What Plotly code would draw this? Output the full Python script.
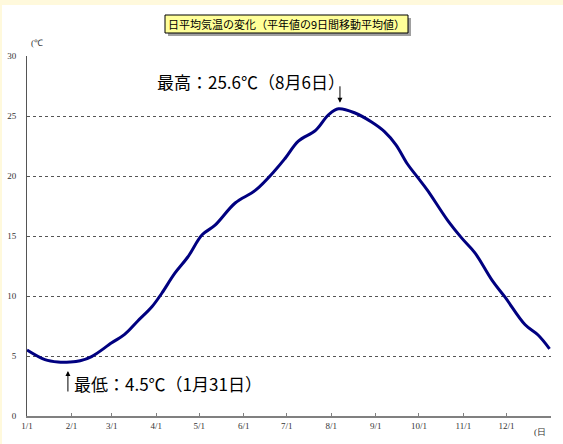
import plotly.graph_objects as go

# Day of year (1 = Jan 1) and 9-day moving-average normal temperature (deg C)
days = [1, 13.5, 22.6, 31, 38, 46, 60, 69, 78, 88, 95, 104, 113, 123, 132, 146,
        160, 174, 181, 190, 202, 211, 218, 229.5, 241, 250, 258, 266, 273, 280,
        294, 304, 313, 325, 334, 348, 357, 365]
temps = [5.5, 4.7, 4.5, 4.5, 4.6, 4.95, 6.1, 6.8, 7.9, 9.1, 10.25, 11.9, 13.25,
         15.1, 15.9, 17.75, 18.8, 20.5, 21.5, 22.9, 23.8, 25.1, 25.6, 25.25, 24.5,
         23.7, 22.6, 21.0, 19.9, 18.8, 16.3, 14.8, 13.6, 11.3, 9.9, 7.6, 6.75, 5.6]

month_days = [1, 32, 60, 91, 121, 152, 182, 213, 244, 274, 305, 335]
month_labels = ["1/1", "2/1", "3/1", "4/1", "5/1", "6/1", "7/1", "8/1", "9/1",
                "10/1", "11/1", "12/1"]
y_ticks = [0, 5, 10, 15, 20, 25, 30]

title_text = "日平均気温の変化（平年値の9日間移動平均値）"
max_text = "最高：25.6℃（8月6日）"
min_text = "最低：4.5℃（1月31日）"
max_point = (218, 25.6)
min_point = (31, 4.5)

W, H = 563, 444
L, R, T, B = 27, 12, 56, 28
pw, ph = W - L - R, H - T - B

def px(x):
    return (x - L) / pw

def py(y):
    return (H - B - y) / ph

fig = go.Figure()
fig.add_trace(go.Scatter(x=days, y=temps, mode="lines",
                         line=dict(color="#000080", width=3, shape="spline", smoothing=1.0),
                         hoverinfo="skip", showlegend=False))

serif = "Liberation Serif, serif"
cjk = "Noto Sans CJK JP, sans-serif"

fig.update_layout(
    width=W, height=H,
    margin=dict(l=L, r=R, t=T, b=B, autoexpand=False),
    paper_bgcolor="white", plot_bgcolor="white",
    xaxis=dict(range=[1, 366], tickvals=month_days, ticktext=month_labels,
               automargin=False,
               showgrid=False, zeroline=False, showline=True, linecolor="#808080",
               linewidth=2, ticks="inside", ticklen=3, tickcolor="#808080",
               tickfont=dict(family=serif, size=9, color="#333333")),
    yaxis=dict(range=[0, 30], tickvals=y_ticks, showgrid=True, gridcolor="#555555",
               automargin=False,
               griddash="dot", gridwidth=1, zeroline=False, showline=True,
               linecolor="#555555", linewidth=1, ticks="", ticklabelstandoff=8,
               tickfont=dict(family=serif, size=9, color="#333333")),
)

shapes = [
    # light cream border band
    dict(type="rect", xref="paper", yref="paper", x0=px(0), x1=px(W), y0=py(0), y1=py(5),
         fillcolor="#FFF9DC", line=dict(width=0), layer="below"),
    dict(type="rect", xref="paper", yref="paper", x0=px(0), x1=px(2), y0=py(0), y1=py(H),
         fillcolor="#FFF9DC", line=dict(width=0), layer="below"),
    # title shadow
    dict(type="rect", xref="paper", yref="paper", x0=px(168), x1=px(411), y0=py(18), y1=py(36),
         fillcolor="#A0A0A0", line=dict(width=0)),
    # title box
    dict(type="rect", xref="paper", yref="paper", x0=px(165), x1=px(408), y0=py(15), y1=py(33),
         fillcolor="#FFFF99", line=dict(color="black", width=1)),
]
fig.update_layout(shapes=shapes)

ann = [
    dict(text=title_text, xref="paper", yref="paper", x=px(286.5), y=py(24),
         showarrow=False, font=dict(family=cjk, size=11, color="black"),
         xanchor="center", yanchor="middle"),
    dict(text="(℃", xref="paper", yref="paper", x=px(29), y=py(43),
         showarrow=False, font=dict(family=serif, size=9, color="#333333"),
         xanchor="left", yanchor="middle"),
    dict(text="(日", xref="paper", yref="paper", x=px(532), y=py(432),
         showarrow=False, font=dict(family=serif, size=9, color="#333333"),
         xanchor="left", yanchor="middle"),
    dict(text=max_text, xref="paper", yref="paper", x=px(155), y=py(82),
         showarrow=False, font=dict(family=cjk, size=17, color="black"),
         xanchor="left", yanchor="middle"),
    dict(text=min_text, xref="paper", yref="paper", x=px(72), y=py(383),
         showarrow=False, font=dict(family=cjk, size=17, color="black"),
         xanchor="left", yanchor="middle"),
    dict(text="", x=max_point[0] + 1, y=max_point[1] + 0.5, xref="x", yref="y",
         showarrow=True, arrowhead=2, arrowsize=1, arrowwidth=1, arrowcolor="black",
         ax=0, ay=-18),
    dict(text="", x=min_point[0] - 1.5, y=min_point[1] - 0.75, xref="x", yref="y",
         showarrow=True, arrowhead=2, arrowsize=1, arrowwidth=1, arrowcolor="black",
         ax=0, ay=22),
]
fig.update_layout(annotations=ann)

fig.write_html("out.html", config={"displayModeBar": False})
with open("out.html", encoding="utf-8") as f:
    html = f.read()
html = html.replace("<head>", "<head><style>html,body{margin:0;padding:0;overflow:hidden;}</style>", 1)
with open("out.html", "w", encoding="utf-8") as f:
    f.write(html)
